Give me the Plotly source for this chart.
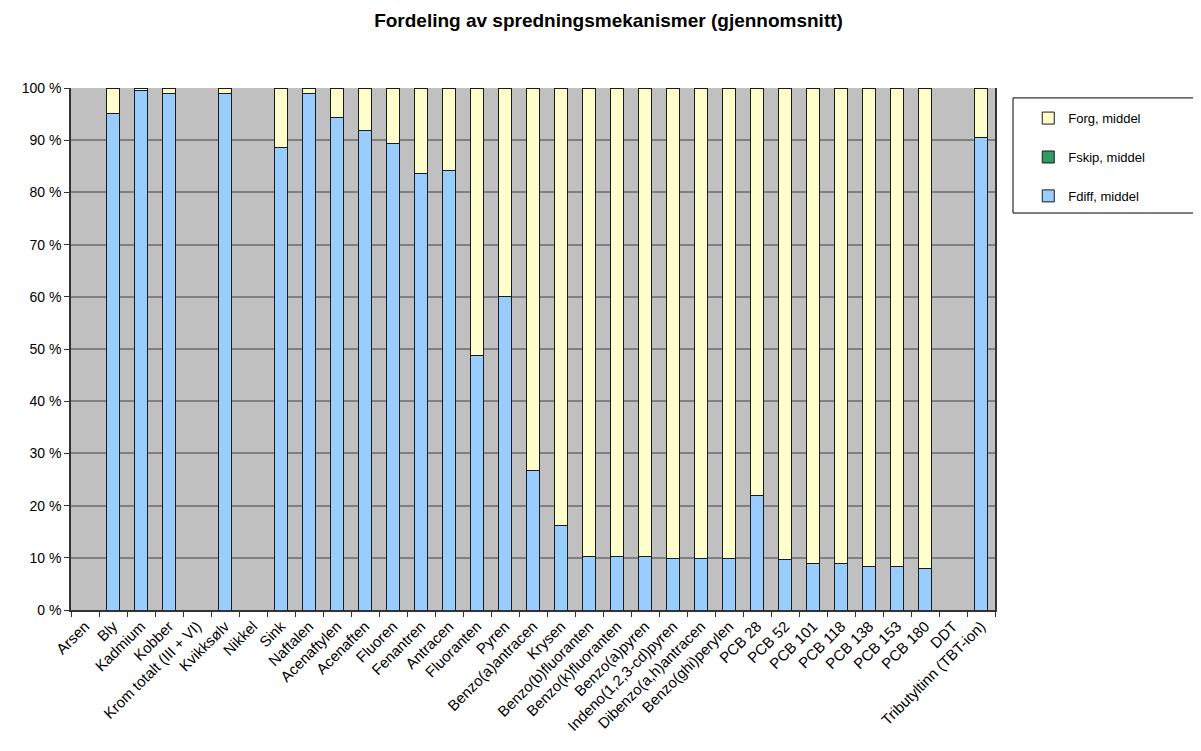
import plotly.graph_objects as go

categories = [
    "Arsen", "Bly", "Kadmium", "Kobber", "Krom totalt (III + VI)", "Kvikksølv",
    "Nikkel", "Sink", "Naftalen", "Acenaftylen", "Acenaften", "Fluoren",
    "Fenantren", "Antracen", "Fluoranten", "Pyren", "Benzo(a)antracen", "Krysen",
    "Benzo(b)fluoranten", "Benzo(k)fluoranten", "Benzo(a)pyren",
    "Indeno(1,2,3-cd)pyren", "Dibenzo(a,h)antracen", "Benzo(ghi)perylen",
    "PCB 28", "PCB 52", "PCB 101", "PCB 118", "PCB 138", "PCB 153", "PCB 180",
    "DDT", "Tributyltinn (TBT-ion)",
]

fdiff = [
    None, 95.2, 99.6, 98.9, None, 99.0,
    None, 88.6, 98.9, 94.3, 91.8, 89.4,
    83.6, 84.2, 48.7, 60.0, 26.8, 16.2,
    10.3, 10.3, 10.3,
    9.8, 9.8, 9.8,
    21.9, 9.6, 8.9, 8.9, 8.4, 8.4, 7.9,
    None, 90.5,
]

fskip = [
    None, 0.0, 0.0, 0.0, None, 0.0,
    None, 0.0, 0.0, 0.0, 0.0, 0.0,
    0.0, 0.0, 0.0, 0.0, 0.0, 0.0,
    0.0, 0.0, 0.0,
    0.0, 0.0, 0.0,
    0.0, 0.0, 0.0, 0.0, 0.0, 0.0, 0.0,
    None, 0.0,
]

forg = [
    None, 4.8, 0.4, 1.1, None, 1.0,
    None, 11.4, 1.1, 5.7, 8.2, 10.6,
    16.4, 15.8, 51.3, 40.0, 73.2, 83.8,
    89.7, 89.7, 89.7,
    90.2, 90.2, 90.2,
    78.1, 90.4, 91.1, 91.1, 91.6, 91.6, 92.1,
    None, 9.5,
]

ytick_vals = [0, 10, 20, 30, 40, 50, 60, 70, 80, 90, 100]
ytick_text = ["0 %", "10 %", "20 %", "30 %", "40 %", "50 %", "60 %", "70 %", "80 %", "90 %", "100 %"]

FONT = "Liberation Sans, Arial, sans-serif"
line = dict(color="#1a1a1a", width=1)

fig = go.Figure()
fig.add_trace(go.Bar(x=categories, y=fdiff, name="Fdiff, middel", legendrank=3,
                     marker=dict(color="#99CCFF", line=line), legendgroup="a"))
fig.add_trace(go.Bar(x=categories, y=fskip, name="Fskip, middel", legendrank=2,
                     marker=dict(color="#339966", line=line), legendgroup="b"))
fig.add_trace(go.Bar(x=categories, y=forg, name="Forg, middel", legendrank=1,
                     marker=dict(color="#FFFFCC", line=line), legendgroup="c"))

fig.update_layout(
    width=1201, height=751,
    barmode="stack", bargap=0.55,
    paper_bgcolor="white", plot_bgcolor="#C0C0C0",
    margin=dict(l=63, r=214, t=80, b=149),
    font=dict(family=FONT, size=14, color="#000000"),
    title=dict(text="<b>Fordeling av spredningsmekanismer (gjennomsnitt)</b>",
               x=0.5, xref="container", xanchor="center",
               y=0.983, yref="container", yanchor="middle",
               font=dict(family=FONT, size=19, color="#000000")),
    showlegend=True,
    legend=dict(x=1.036, xanchor="left", y=0.971, yanchor="top",
                traceorder="grouped", tracegroupgap=19,
                bgcolor="rgba(0,0,0,0)", borderwidth=0,
                font=dict(family=FONT, size=13, color="#000000")),
    shapes=[dict(type="rect", xref="paper", yref="paper",
                 x0=1.0195, x1=1.2207, y0=0.7605, y1=0.981,
                 line=dict(color="#000000", width=1), fillcolor="white", layer="below")],
)

fig.update_xaxes(
    type="category", tickangle=-45, tickson="boundaries", automargin=False,
    ticks="outside", ticklen=5, tickcolor="#333333",
    showline=True, linecolor="#333333", linewidth=1.5,
    showgrid=False, tickfont=dict(family=FONT, size=15, color="#000000"),
)
fig.update_yaxes(
    range=[0, 100], tickvals=ytick_vals, ticktext=ytick_text, automargin=False,
    ticks="outside", ticklen=5, tickcolor="#333333",
    showline=True, linecolor="#333333", linewidth=1.5, mirror=True,
    showgrid=True, gridcolor="#808080", gridwidth=1.5,
    zeroline=False, tickfont=dict(family=FONT, size=14, color="#000000"),
)

fig.write_html("out.html")
